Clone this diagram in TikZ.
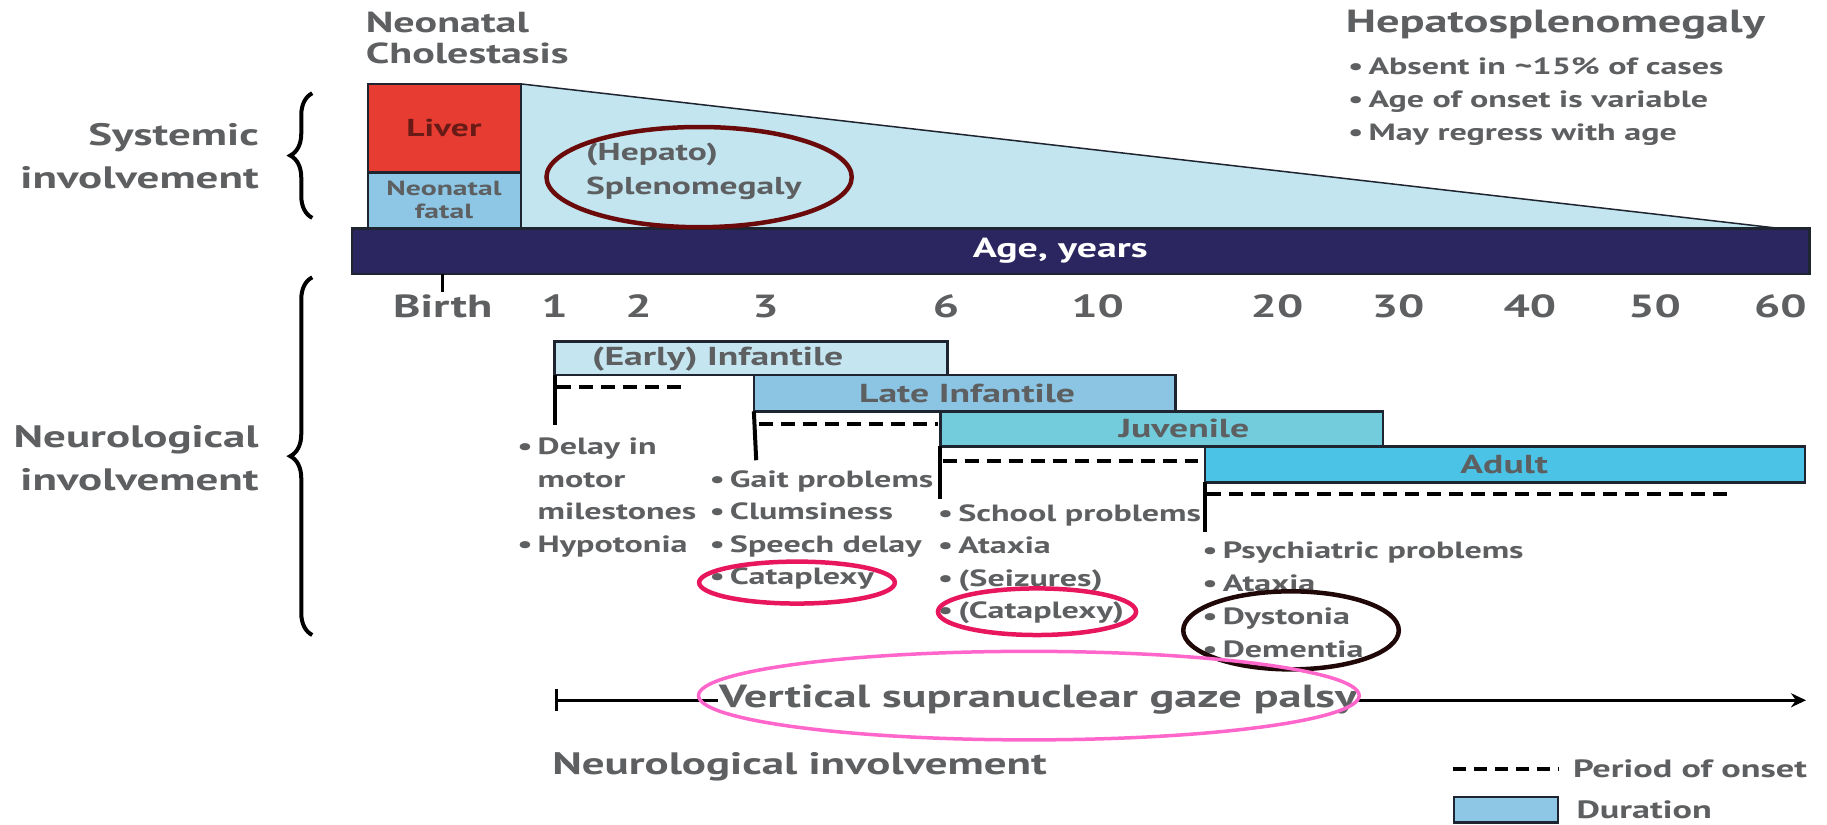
\documentclass[tikz,border=0pt]{standalone}
\usepackage{fontspec}
\setmainfont{PT Sans}[FakeStretch=1.45]
\usetikzlibrary{shapes.geometric,decorations.pathreplacing,arrows.meta,fit}
\definecolor{txt}{HTML}{5D5F61}
\definecolor{edge}{HTML}{1E2530}
\definecolor{liverred}{HTML}{E73C32}
\definecolor{fatalblue}{HTML}{8DC7E5}
\definecolor{trifill}{HTML}{C2E5F0}
\definecolor{navy}{HTML}{2C2660}
\definecolor{earlyc}{HTML}{C5E6F1}
\definecolor{latec}{HTML}{8BC5E3}
\definecolor{juvc}{HTML}{72CCDB}
\definecolor{adultc}{HTML}{4BC3E6}
\definecolor{maroon}{HTML}{6B0A0A}
\definecolor{crimson}{HTML}{E8175D}
\definecolor{darkring}{HTML}{200808}
\definecolor{pinkring}{HTML}{FF66CC}
\newcommand{\setfs}[2]{\fontsize{#1}{#2}\selectfont}
\newcommand{\bul}{\textbullet\kern5pt}
\newcommand{\nobul}{\phantom{\textbullet}\kern5pt}
\begin{document}
\begin{tikzpicture}[x=1.1652pt,y=-1.1652pt,
  every node/.style={inner sep=0pt,outer sep=0pt},
  lbl/.style={text=txt,font=\bfseries},
  box/.style={draw=edge,line width=2.5pt,inner sep=0pt},
  vline/.style={line width=4pt,draw=black},
  onset/.style={line width=4pt,draw=black,dash pattern=on 14pt off 8pt},
  ring/.style={ellipse,draw,line width=4.5pt,inner sep=0pt},
  bracestyle/.style={decorate,decoration={brace,amplitude=22pt},line width=4pt,draw=black}]
\useasboundingbox (0,0) rectangle (1568,708);
\fill[white] (0,0) rectangle (1568,708);

% systemic part
\fill[trifill] (447,72) -- (1527,196) -- (447,196) -- cycle;
\coordinate (trip) at (1527,196);
\node[box,fill=liverred,fit={(316,72) (447,148)}] (liver) {};
\node[box,fill=fatalblue,fit={(316,148) (447,196)}] (fatal) {};
\draw[line width=1.5pt,edge] (liver.north east) -- (trip);
\node[box,fill=navy,fit={(302,196) (1553,235)}] (bar) {};

\node[text=black!55!liverred,font=\bfseries\setfs{24.5}{30}] (livertxt) at (381,110) {Liver};
\node[lbl,align=center,font=\bfseries\setfs{20.5}{23}] (fataltxt) at (381,172) {Neonatal\\fatal};
\node[lbl,anchor=west,align=left,font=\bfseries\setfs{29}{31}] (neo) at (314,33) {Neonatal\\Cholestasis};
\node[lbl,anchor=west,align=left,font=\bfseries\setfs{24.5}{34}] (spleen) at (503,147) {(Hepato)\\Splenomegaly};
\node[ring,draw=maroon,minimum width={262*1.1652pt},minimum height={86*1.1652pt}] (spleenring) at (600,152) {};
\node[text=white,font=\bfseries\setfs{27.5}{30}] (age) at (910,215) {Age, years};

\node[lbl,anchor=west,font=\bfseries\setfs{32}{34}] (hsm) at (1155,21) {Hepatosplenomegaly};
\node[lbl,anchor=west,align=left,font=\bfseries\setfs{23.5}{33}] (hsmlist) at (1157,87)
  {\bul Absent in \textasciitilde15\% of cases\\\bul Age of onset is variable\\\bul May regress with age};

\node[lbl,anchor=east,align=right,font=\bfseries\setfs{31}{43}] (sys) at (222,134) {Systemic\\involvement};
\coordinate (b1a) at (268,187); \coordinate (b1b) at (268,80);
\draw[bracestyle] (b1a) -- (b1b);

% axis
\coordinate (birthtick) at (380,251);
\draw[line width=3pt] (bar.south -| birthtick) -- (birthtick);
\foreach \lab/\xx in {Birth/380,1/476,2/548,3/657,6/812,10/942,20/1096,30/1200,40/1313,50/1420,60/1528}{
  \node[lbl,font=\bfseries\setfs{32}{33}] (ax\lab) at (\xx,263) {\lab};
}

% neurological part
\node[lbl,anchor=east,align=right,font=\bfseries\setfs{31}{43}] (neu) at (222,393) {Neurological\\involvement};
\coordinate (b2a) at (268,545); \coordinate (b2b) at (268,238);
\draw[bracestyle] (b2a) -- (b2b);

\node[box,fill=earlyc,fit={(476,293) (813,322)}] (early) {};
\node[box,fill=latec,fit={(647,322) (1009,353)}] (late) {};
\node[box,fill=juvc,fit={(807,353) (1187,383)}] (juv) {};
\node[box,fill=adultc,fit={(1034,383) (1549,414)}] (adult) {};

\node[lbl,font=\bfseries\setfs{26}{30}] (earlytxt) at (616,308) {(Early) Infantile};
\node[lbl,font=\bfseries\setfs{26}{30}] (latetxt) at (830,338) {Late Infantile};
\node[lbl,font=\bfseries\setfs{26}{30}] (juvtxt) at (1016,368) {Juvenile};
\node[lbl,font=\bfseries\setfs{26}{30}] (adulttxt) at (1291,399) {Adult};

\coordinate (ev) at (476,365); \coordinate (ed1) at (478,332); \coordinate (ed2) at (585,332);
\coordinate (lv) at (649,395); \coordinate (ld1) at (651,364); \coordinate (ld2) at (805,364);
\coordinate (jv) at (807,428); \coordinate (jd1) at (809,396); \coordinate (jd2) at (1028,396);
\coordinate (av) at (1034,457); \coordinate (ad1) at (1036,424); \coordinate (ad2) at (1488,424);
\draw[vline] (early.south west) -- (ev);
\draw[vline] (late.south west) -- (lv);
\draw[vline] (juv.south west) -- (jv);
\draw[vline] (adult.south west) -- (av);
\draw[onset] (ed1) -- (ed2);
\draw[onset] (ld1) -- (ld2);
\draw[onset] (jd1) -- (jd2);
\draw[onset] (ad1) -- (ad2);

\node[lbl,anchor=west,align=left,font=\bfseries\setfs{23.5}{32.5}] (elist) at (444,427)
  {\bul Delay in\\\nobul motor\\\nobul milestones\\\bul Hypotonia};
\node[lbl,anchor=west,align=left,font=\bfseries\setfs{23.5}{32.5}] (llist) at (609,455)
  {\bul Gait problems\\\bul Clumsiness\\\bul Speech delay\\\bul Cataplexy};
\node[lbl,anchor=west,align=left,font=\bfseries\setfs{23.5}{32.5}] (jlist) at (805,484)
  {\bul School problems\\\bul Ataxia\\\bul (Seizures)\\\bul (Cataplexy)};
\node[lbl,anchor=west,align=left,font=\bfseries\setfs{23.5}{33}] (alist) at (1032,515)
  {\bul Psychiatric problems\\\bul Ataxia\\\bul Dystonia\\\bul Dementia};

\node[ring,draw=crimson,minimum width={168*1.1652pt},minimum height={36*1.1652pt}] (cat1) at (684,500) {};
\node[ring,draw=crimson,minimum width={170*1.1652pt},minimum height={40*1.1652pt}] (cat2) at (890,525) {};
\node[ring,draw=darkring,minimum width={185*1.1652pt},minimum height={67*1.1652pt}] (dd) at (1108,541) {};

% gaze palsy
\coordinate (gs) at (476,601); \coordinate (ge) at (1550,601);
\draw[line width=3.5pt,{Bar[width=22pt,line width=3.5pt]}-{Stealth[length=15pt,width=14pt]}] (gs) -- (ge);
\node[lbl,fill=white,inner xsep=1pt,inner ysep=3pt,font=\bfseries\setfs{32}{36}] (vsgp) at (891,600) {Vertical supranuclear gaze palsy};
\node[ring,draw=pinkring,line width=3.5pt,minimum width={567*1.1652pt},minimum height={76*1.1652pt}] (vring) at (883,597) {};

\node[lbl,anchor=west,font=\bfseries\setfs{31}{32}] (neubot) at (474,658) {Neurological involvement};

% legend
\coordinate (lg1) at (1247,660); \coordinate (lg2) at (1338,660);
\draw[line width=4pt,dash pattern=on 13pt off 8pt] (lg1) -- (lg2);
\node[lbl,anchor=west,font=\bfseries\setfs{25}{26}] (lgt1) at (1350,660) {Period of onset};
\node[box,fill=fatalblue,fit={(1248,684) (1337,706)}] (lgbox) {};
\node[lbl,anchor=west,font=\bfseries\setfs{25}{26}] (lgt2) at (1353,695) {Duration};
\end{tikzpicture}
\end{document}
